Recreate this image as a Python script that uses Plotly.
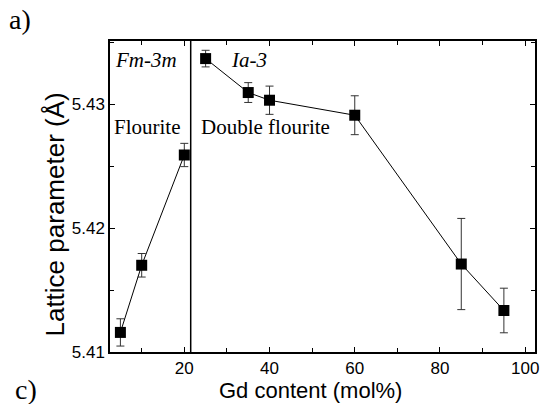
import plotly.graph_objects as go

# Data
gd_fluorite = [5, 10, 20]
lat_fluorite = [5.41158, 5.41700, 5.42590]
err_fluorite = [0.0011, 0.00095, 0.00094]

gd_double = [25, 35, 40, 60, 85, 95]
lat_double = [5.43368, 5.43094, 5.43032, 5.42911, 5.41710, 5.41335]
err_double = [0.00067, 0.0008, 0.00114, 0.00157, 0.00368, 0.0018]

phase_boundary = 21.5
x_ticks = [20, 40, 60, 80, 100]
y_ticks = [5.41, 5.42, 5.43]

SANS = "Liberation Sans, Arial, sans-serif"
SERIF = "Liberation Serif, Times New Roman, serif"

L, R, T, B = 110, 5, 41, 52
W, H = 544, 404
pw, ph = W - L - R, H - T - B


def px(x):
    return (x - L) / pw


def py(y):
    return (H - B - y) / ph


def make_trace(x, y, e):
    return go.Scatter(
        x=x, y=y, mode="lines+markers",
        line=dict(color="black", width=1),
        marker=dict(symbol="square", size=11, color="black"),
        error_y=dict(type="data", array=e, visible=True, color="#333333",
                     thickness=1, width=4),
        showlegend=False,
    )


fig = go.Figure()
fig.add_trace(make_trace(gd_fluorite, lat_fluorite, err_fluorite))
fig.add_trace(make_trace(gd_double, lat_double, err_double))

fig.add_shape(type="line", x0=phase_boundary, x1=phase_boundary, xref="x",
              y0=0, y1=1, yref="paper", line=dict(color="black", width=1.5))

axis_common = dict(
    showline=True, linecolor="black", linewidth=1.5, mirror="allticks",
    ticks="inside", ticklen=5, tickwidth=1, tickcolor="black",
    showgrid=False, zeroline=False,
    tickfont=dict(family=SANS, size=17, color="black"),
)

fig.update_layout(
    width=W, height=H,
    margin=dict(l=L, r=R, t=T, b=B),
    paper_bgcolor="white", plot_bgcolor="white",
    xaxis=dict(range=[2.56, 102.3], tickvals=x_ticks,
               minor=dict(dtick=10, tick0=0, ticks="inside", ticklen=4,
                          tickcolor="black", showgrid=False),
               **axis_common),
    yaxis=dict(range=[5.41, 5.4351], tickvals=y_ticks, tickformat=".2f",
               minor=dict(dtick=0.005, tick0=5.41, ticks="inside", ticklen=4,
                          tickcolor="black", showgrid=False),
               **axis_common),
)

ann = [
    dict(text="Lattice parameter (Å)", x=px(54), y=py(215), textangle=-90,
         font=dict(family=SANS, size=26)),
    dict(text="Gd content (mol%)", x=px(312), y=py(390.5), borderpad=0,
         font=dict(family=SANS, size=22)),
    dict(text="<i>Fm-3m</i>", x=px(146), y=py(60), font=dict(family=SERIF, size=21)),
    dict(text="<i>Ia-3</i>", x=px(250), y=py(60), font=dict(family=SERIF, size=21)),
    dict(text="Flourite", x=px(148), y=py(127), font=dict(family=SERIF, size=21)),
    dict(text="Double flourite", x=px(267), y=py(127), font=dict(family=SERIF, size=21)),
    dict(text="a)", x=px(19), y=py(19), font=dict(family=SERIF, size=28)),
    dict(text="c)", x=px(25), y=py(389), font=dict(family=SERIF, size=28)),
]
for a in ann:
    fig.add_annotation(xref="paper", yref="paper", showarrow=False,
                       xanchor="center", yanchor="middle",
                       font_color="black", **a)

fig.write_html("out.html")
